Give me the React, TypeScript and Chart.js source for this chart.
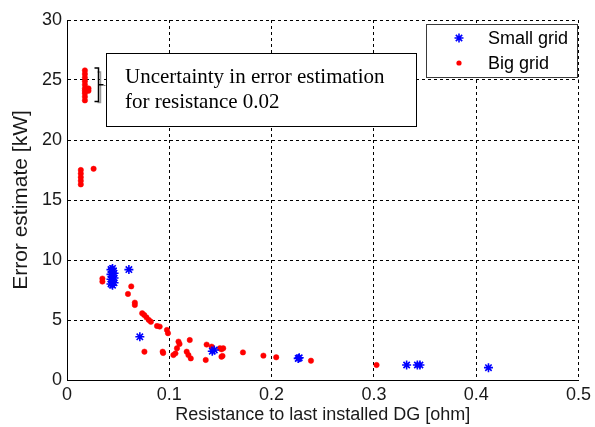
import React, { useEffect, useRef } from "react";
import { Chart, registerables } from "chart.js";

Chart.register(...registerables);

// ---- Data ----
const seriesNames = ["Small grid", "Big grid"];

const smallGridX = [
  0.043, 0.043, 0.043, 0.043,
  0.0445, 0.0445, 0.0445, 0.0445, 0.0445,
  0.046, 0.046, 0.046,
  0.0605, 0.0712, 0.142, 0.144, 0.226, 0.227, 0.332, 0.3425, 0.345, 0.412,
];
const smallGridY = [
  8.0, 8.4, 8.8, 9.2,
  7.9, 8.2, 8.6, 9.0, 9.3,
  8.1, 8.5, 8.9,
  9.2, 3.6, 2.4, 2.5, 1.8, 1.85, 1.25, 1.25, 1.25, 1.03,
];

const bigGridX = [
  0.0175, 0.0175, 0.0175, 0.0175, 0.0175, 0.0175, 0.0175, 0.0175, 0.0175, 0.0175,
  0.021, 0.021,
  0.0135, 0.0135, 0.0135, 0.0135, 0.0135, 0.026,
  0.0346, 0.0346, 0.0596, 0.0628, 0.0663, 0.0663,
  0.0735, 0.0755, 0.0777, 0.08, 0.082, 0.088, 0.0906, 0.0977, 0.0987,
  0.0757, 0.0935, 0.094, 0.104, 0.106, 0.1075, 0.109, 0.11,
  0.117, 0.1187, 0.12, 0.121, 0.1356, 0.1365, 0.1414, 0.1495, 0.151, 0.151, 0.152, 0.1527,
  0.172, 0.192, 0.2045, 0.2385, 0.3026,
];
const bigGridY = [
  23.3, 23.6, 23.9, 24.1, 24.3, 24.6, 24.9, 25.2, 25.5, 25.8,
  24.1, 24.3,
  16.3, 16.6, 16.9, 17.2, 17.5, 17.6,
  8.2, 8.45, 7.17, 7.8, 6.25, 6.45,
  5.56, 5.42, 5.22, 5.0, 4.85, 4.5, 4.45, 4.17, 3.9,
  2.36, 2.36, 2.25, 2.08, 2.22, 2.64, 3.2, 3.0,
  2.36, 2.08, 3.33, 1.8, 1.67, 2.95, 2.78, 2.64, 2.56, 1.94, 2.0, 2.64,
  2.3, 2.03, 1.89, 1.61, 1.25,
];

const xTicks = [0, 0.1, 0.2, 0.3, 0.4, 0.5];
const yTicks = [0, 5, 10, 15, 20, 25, 30];

const xTitle = "Resistance to last installed DG [ohm]";
const yTitle = "Error estimate [kW]";
const noteLines = ["Uncertainty in error estimation", "for resistance 0.02"];
const bracketX = 0.0305;
const bracketRange = [23.2, 26.0];

const TEXT = "#1a1a1a";
const SANS = "'Liberation Sans', Arial, Helvetica, sans-serif";
const SERIF = "'Liberation Serif', 'Times New Roman', serif";

function drawStar(ctx: CanvasRenderingContext2D, cx: number, cy: number, r: number) {
  const d = r * Math.SQRT1_2;
  ctx.beginPath();
  ctx.moveTo(cx - r, cy);
  ctx.lineTo(cx + r, cy);
  ctx.moveTo(cx, cy - r);
  ctx.lineTo(cx, cy + r);
  ctx.moveTo(cx - d, cy - d);
  ctx.lineTo(cx + d, cy + d);
  ctx.moveTo(cx - d, cy + d);
  ctx.lineTo(cx + d, cy - d);
  ctx.stroke();
}

const notePlugin = {
  id: "notePlugin",
  afterDraw(chart: any) {
    const ctx: CanvasRenderingContext2D = chart.ctx;
    const xs = chart.scales.x;
    const ys = chart.scales.y;
    ctx.save();
    // annotation box
    ctx.fillStyle = "#fff";
    ctx.fillRect(106.5, 53.5, 310, 73);
    ctx.strokeStyle = "#000";
    ctx.lineWidth = 1;
    ctx.strokeRect(106.5, 53.5, 310, 73);
    ctx.fillStyle = "#000";
    ctx.font = `21px ${SERIF}`;
    ctx.textBaseline = "alphabetic";
    ctx.textAlign = "left";
    ctx.fillText(noteLines[0], 125, 83);
    ctx.fillText(noteLines[1], 125, 108);

    // bracket
    const bx = Math.round(xs.getPixelForValue(bracketX)) + 0.5;
    const yTop = ys.getPixelForValue(bracketRange[1]);
    const yBot = ys.getPixelForValue(bracketRange[0]);
    const yMid = (yTop + yBot) / 2;
    // gray shadow bracket
    ctx.strokeStyle = "#9a9a9a";
    ctx.lineWidth = 1.5;
    ctx.beginPath();
    ctx.moveTo(bx - 1, yTop + 4);
    ctx.lineTo(bx + 2, yTop + 4);
    ctx.lineTo(bx + 2, yBot + 1);
    ctx.lineTo(bx - 1, yBot + 1);
    ctx.stroke();
    // black bracket
    ctx.strokeStyle = "#000";
    ctx.lineWidth = 1.5;
    ctx.beginPath();
    ctx.moveTo(bx - 4, yTop);
    ctx.lineTo(bx, yTop);
    ctx.lineTo(bx, yBot);
    ctx.lineTo(bx - 4, yBot);
    ctx.moveTo(bx, yMid);
    ctx.lineTo(bx + 5, yMid);
    ctx.stroke();
    // connector to box
    ctx.strokeStyle = "#777";
    ctx.lineWidth = 1;
    ctx.setLineDash([2, 1]);
    ctx.beginPath();
    ctx.moveTo(bx + 5, Math.round(yMid) + 0.5);
    ctx.lineTo(106, Math.round(yMid) + 0.5);
    ctx.stroke();
    ctx.restore();
  },
};

const legendPlugin = {
  id: "boxLegend",
  afterDraw(chart: any) {
    const ctx: CanvasRenderingContext2D = chart.ctx;
    ctx.save();
    ctx.fillStyle = "#fff";
    ctx.fillRect(426.5, 24.5, 151, 53);
    ctx.strokeStyle = "#3a3a3a";
    ctx.lineWidth = 1;
    ctx.strokeRect(426.5, 24.5, 151, 53);
    const rows = [38, 63];
    chart.data.datasets.forEach((ds: any, i: number) => {
      const cx = 459;
      const cy = rows[i];
      ctx.strokeStyle = ds.borderColor;
      ctx.fillStyle = ds.backgroundColor;
      if (ds.pointStyle === "star") {
        ctx.lineWidth = 1.6;
        drawStar(ctx, cx, cy, 4.5);
      } else {
        ctx.beginPath();
        ctx.arc(cx, cy, 2.6, 0, Math.PI * 2);
        ctx.fill();
      }
      ctx.fillStyle = "#000";
      ctx.font = `18px ${SANS}`;
      ctx.textBaseline = "middle";
      ctx.textAlign = "left";
      ctx.fillText(ds.label, 488, cy + 1);
    });
    ctx.restore();
  },
};

export default function App() {
  const ref = useRef<HTMLCanvasElement>(null);

  useEffect(() => {
    const canvas = ref.current;
    if (!canvas) return;
    const smallPts = smallGridX.map((x, i) => ({ x, y: smallGridY[i] }));
    const bigPts = bigGridX.map((x, i) => ({ x, y: bigGridY[i] }));

    const gridOpts = { color: "#000", lineWidth: 1, drawTicks: false };
    const borderOpts = { display: true, color: "#000", width: 1, dash: [3, 3] };

    const chart = new Chart(canvas, {
      type: "scatter",
      data: {
        datasets: [
          {
            label: seriesNames[0],
            data: smallPts,
            pointStyle: "star",
            pointRadius: 4.5,
            pointBorderWidth: 1.6,
            borderColor: "#0000ff",
            backgroundColor: "#0000ff",
          },
          {
            label: seriesNames[1],
            data: bigPts,
            pointStyle: "circle",
            pointRadius: 2.7,
            pointBorderWidth: 0.5,
            borderColor: "#ff0000",
            backgroundColor: "#ff0000",
          },
        ],
      } as any,
      options: {
        responsive: false,
        animation: false,
        events: [],
        layout: { padding: { top: 20, right: 14, left: 0, bottom: 0 } },
        plugins: { legend: { display: false }, tooltip: { enabled: false } },
        scales: {
          x: {
            type: "linear",
            min: 0,
            max: 0.5,
            afterFit: (s: any) => {
              s.height = 47;
            },
            afterBuildTicks: (s: any) => {
              s.ticks = xTicks.map((v) => ({ value: v }));
            },
            ticks: {
              padding: 4,
              color: TEXT,
              font: { size: 18, family: SANS },
              maxRotation: 0,
              autoSkip: false,
              callback: (v: any) => String(Math.round(Number(v) * 10) / 10),
            },
            grid: gridOpts,
            border: borderOpts,
            title: {
              display: true,
              text: xTitle,
              color: TEXT,
              font: { size: 18, family: SANS },
              padding: { top: 0, bottom: 1 },
            },
          },
          y: {
            type: "linear",
            min: 0,
            max: 30,
            afterFit: (s: any) => {
              s.width = 67;
            },
            afterBuildTicks: (s: any) => {
              s.ticks = yTicks.map((v) => ({ value: v }));
            },
            ticks: {
              padding: 5,
              color: TEXT,
              font: { size: 18, family: SANS },
              autoSkip: false,
              callback: (v: any) => String(v),
            },
            grid: gridOpts,
            border: borderOpts,
            title: {
              display: true,
              text: yTitle,
              color: TEXT,
              font: { size: 21, family: SANS },
              padding: { top: 9, bottom: 0 },
            },
          },
        },
      } as any,
      plugins: [notePlugin, legendPlugin],
    });
    return () => chart.destroy();
  }, []);

  return (
    <div style={{ position: "absolute", left: 0, top: 0, width: 595, height: 427, background: "#fff" }}>
      <canvas ref={ref} width={595} height={427} style={{ display: "block" }} />
    </div>
  );
}
